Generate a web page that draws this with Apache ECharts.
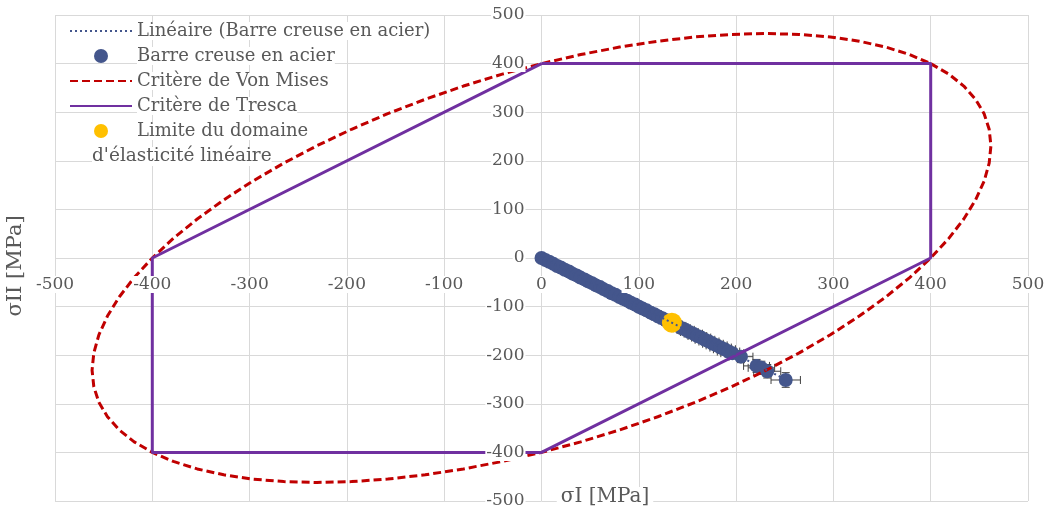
<!DOCTYPE html>
<html>
<head>
<meta charset="utf-8">
<script src="https://cdn.jsdelivr.net/npm/echarts@6/dist/echarts.min.js"></script>
<style>
  html, body { margin: 0; padding: 0; background: #fff; }
  #chart { width: 1051px; height: 513px; }
</style>
</head>
<body>
<div id="chart"></div>
<script>
// Principal stresses measured on the hollow steel bar (MPa)
const sigmaI = [0, 4.1, 8.0, 12.2, 16.1, 19.8, 24.0, 28.2, 31.9, 36.1, 40.0, 44.2, 47.9, 52.0, 56.1,
  60.2, 63.8, 68.0, 72.1, 76.0, 80.2, 83.9, 88.1, 92.0, 96.2, 100.1, 103.9, 108.0, 112.2, 116.0,
  120.1, 124.2, 127.9, 132.0, 136.1, 140.0, 144.2, 148.1, 151.9, 156.0, 160.2, 164.1, 168.0, 172.1,
  176.2, 180.0, 184.1, 188.0, 192.2, 196.1, 205, 221, 226, 232, 251];
const sigmaII = [0, -4.3, -7.8, -12.0, -16.4, -19.6, -24.3, -27.9, -32.2, -35.8, -40.3, -44.0, -48.2, -51.7, -56.4,
  -59.9, -64.1, -67.8, -72.4, -75.7, -80.5, -84.2, -87.8, -92.3, -95.9, -100.4, -104.1, -107.7, -112.5, -115.8,
  -120.4, -123.9, -128.2, -131.8, -136.3, -139.7, -144.5, -147.8, -152.2, -155.7, -160.5, -163.8, -168.3, -171.9,
  -176.5, -179.8, -184.3, -187.7, -192.5, -195.8, -203, -222, -226, -233, -251];
// Measurement uncertainty on each stress (MPa)
const uncert = [0, 0.2, 0.5, 0.7, 1.0, 1.2, 1.4, 1.7, 1.9, 2.2, 2.4, 2.7, 2.9, 3.1, 3.4,
  3.6, 3.8, 4.1, 4.3, 4.6, 4.8, 5.0, 5.3, 5.5, 5.8, 6.0, 6.2, 6.5, 6.7, 7.0,
  7.2, 7.5, 7.7, 7.9, 8.2, 8.4, 8.7, 8.9, 9.1, 9.4, 9.6, 9.8, 10.1, 10.3,
  10.6, 10.8, 11.0, 11.3, 11.5, 11.8, 12.3, 13.3, 13.6, 13.9, 15.1];

// Linear trend of the measurements
const trendI = [0, 251];
const trendII = [0.5, -250];

// End of the linear elastic range
const limitI = [134];
const limitII = [-133];

// Von Mises yield ellipse (Re = 400 MPa), one point every 5 degrees
const misesI = [400, 418.6, 434.0, 446.1, 454.9, 460.1, 461.9, 460.1, 454.9, 446.1, 434.0, 418.6,
  400, 378.4, 353.8, 326.6, 296.9, 264.9, 230.9, 195.2, 158.0, 119.5, 80.2, 40.3,
  0, -40.3, -80.2, -119.5, -158.0, -195.2, -230.9, -264.9, -296.9, -326.6, -353.8, -378.4,
  -400, -418.6, -434.0, -446.1, -454.9, -460.1, -461.9, -460.1, -454.9, -446.1, -434.0, -418.6,
  -400, -378.4, -353.8, -326.6, -296.9, -264.9, -230.9, -195.2, -158.0, -119.5, -80.2, -40.3,
  0, 40.3, 80.2, 119.5, 158.0, 195.2, 230.9, 264.9, 296.9, 326.6, 353.8, 378.4, 400];
const misesII = [400, 378.3, 353.8, 326.6, 296.9, 264.9, 230.9, 195.2, 158.0, 119.5, 80.2, 40.3,
  0, -40.3, -80.2, -119.5, -158.0, -195.2, -230.9, -264.9, -296.9, -326.6, -353.8, -378.4,
  -400, -418.6, -434.0, -446.1, -454.9, -460.1, -461.9, -460.1, -454.9, -446.1, -434.0, -418.6,
  -400, -378.3, -353.8, -326.6, -296.9, -264.9, -230.9, -195.2, -158.0, -119.5, -80.2, -40.3,
  0, 40.3, 80.2, 119.5, 158.0, 195.2, 230.9, 264.9, 296.9, 326.6, 353.8, 378.4,
  400, 418.6, 434.0, 446.1, 454.9, 460.1, 461.9, 460.1, 454.9, 446.1, 434.0, 418.6, 400];

// Tresca yield hexagon
const trescaI = [0, 400, 400, 0, -400, -400, 0];
const trescaII = [400, 400, 0, -400, -400, 0, 400];

// Axis ticks
const axisMin = -500, axisMax = 500, axisStep = 100;

const NAME_TREND = 'Linéaire (Barre creuse en acier)';
const NAME_BAR = 'Barre creuse en acier';
const NAME_MISES = 'Critère de Von Mises';
const NAME_TRESCA = 'Critère de Tresca';
const NAME_LIMIT = 'Limite du domaine';
const LIMIT_LINE2 = "d'élasticité linéaire";

const FONT = '"DejaVu Serif", "Liberation Serif", serif';
const TEXT = '#595959';
const GRID_C = '#d9d9d9';
const HIDDEN = 'rgba(0,0,0,0)';

const zip = (a, b) => a.map((v, i) => [v, b[i]]);

// Plot area, and the offsets that bring the label axes onto the origin
const W = 1051, H = 513;
const G = { left: 55, right: 23, top: 15, bottom: 12 };
const plotW = W - G.left - G.right, plotH = H - G.top - G.bottom;
const zeroFracX = (0 - axisMin) / (axisMax - axisMin);
const zeroFracY = (0 - axisMin) / (axisMax - axisMin);
const xLabelOffset = -plotH * zeroFracY;
const yLabelOffset = -plotW * zeroFracX;

const chart = echarts.init(document.getElementById('chart'), null, { renderer: 'canvas' });

const baseAxis = {
  type: 'value', min: axisMin, max: axisMax, interval: axisStep,
  axisTick: { show: false },
  axisLine: { show: false, onZero: false }
};

// axes 0 carry the gridlines, axes 1 carry the tick labels crossing at the origin
const option = {
  animation: false,
  backgroundColor: '#fff',
  grid: Object.assign({ containLabel: false }, G),
  xAxis: [
    Object.assign({}, baseAxis, {
      position: 'bottom',
      axisLabel: { show: false },
      splitLine: { show: true, lineStyle: { color: GRID_C, width: 1 } }
    }),
    Object.assign({}, baseAxis, {
      position: 'bottom', z: 10, offset: xLabelOffset,
      splitLine: { show: false },
      axisLabel: {
        color: TEXT, fontFamily: FONT, fontSize: 17, margin: 18,
        backgroundColor: '#fff', padding: [0, 1]
      }
    })
  ],
  yAxis: [
    Object.assign({}, baseAxis, {
      position: 'left',
      axisLabel: { show: false },
      splitLine: { show: true, lineStyle: { color: GRID_C, width: 1 } }
    }),
    Object.assign({}, baseAxis, {
      position: 'left', z: 10, offset: yLabelOffset,
      splitLine: { show: false },
      axisLabel: {
        color: TEXT, fontFamily: FONT, fontSize: 17, margin: 16,
        backgroundColor: '#fff', padding: [0, 1]
      }
    })
  ],
  legend: {
    orient: 'vertical',
    left: 69, top: 22, padding: 0,
    itemWidth: 62, itemHeight: 14, itemGap: 7,
    selectedMode: false,
    textStyle: { color: TEXT, fontFamily: FONT, fontSize: 18, backgroundColor: '#fff' },
    data: [
      { name: NAME_TREND, itemStyle: { color: HIDDEN, borderWidth: 0 } },
      { name: NAME_BAR },
      { name: NAME_MISES, itemStyle: { color: HIDDEN, borderWidth: 0 } },
      { name: NAME_TRESCA, itemStyle: { color: HIDDEN, borderWidth: 0 } },
      { name: NAME_LIMIT }
    ]
  },
  graphic: [
    {
      type: 'text', left: 92, top: 147, z: 100,
      style: { text: LIMIT_LINE2, fill: TEXT, font: '18.5px ' + FONT, backgroundColor: '#fff' }
    },
    {
      type: 'text', x: 605, y: 497, z: 100,
      style: { text: 'σI [MPa]', fill: TEXT, font: '20px ' + FONT, align: 'center', verticalAlign: 'middle',
        backgroundColor: '#fff', padding: [0, 4] }
    },
    {
      // sits under the tick labels so the "-500" label stays readable
      type: 'text', x: 16, y: 266, rotation: Math.PI / 2, z: 5,
      style: { text: 'σII [MPa]', fill: TEXT, font: '21px ' + FONT, align: 'center', verticalAlign: 'middle',
        backgroundColor: '#fff', padding: [0, 4] }
    }
  ],
  series: [
    {
      name: 'errorbars',
      type: 'custom',
      z: 2,
      silent: true,
      data: sigmaI.map((v, i) => [v, sigmaII[i], uncert[i], uncert[i]]),
      encode: { x: 0, y: 1 },
      renderItem: function (params, api) {
        const x = api.value(0), y = api.value(1), ex = api.value(2), ey = api.value(3);
        const L = api.coord([x - ex, y]), R = api.coord([x + ex, y]);
        const T = api.coord([x, y + ey]), B = api.coord([x, y - ey]);
        const cap = 4;
        const st = { stroke: '#404040', lineWidth: 1 };
        const seg = (x1, y1, x2, y2) => ({ type: 'line', shape: { x1, y1, x2, y2 }, style: st });
        return {
          type: 'group',
          children: [
            seg(L[0], L[1], R[0], R[1]),
            seg(L[0], L[1] - cap, L[0], L[1] + cap),
            seg(R[0], R[1] - cap, R[0], R[1] + cap),
            seg(T[0], T[1], B[0], B[1]),
            seg(T[0] - cap, T[1], T[0] + cap, T[1]),
            seg(B[0] - cap, B[1], B[0] + cap, B[1])
          ]
        };
      }
    },
    {
      name: NAME_BAR,
      type: 'scatter',
      z: 3,
      symbol: 'circle',
      symbolSize: 14,
      itemStyle: { color: '#44568c', opacity: 1 },
      data: zip(sigmaI, sigmaII)
    },
    {
      name: NAME_MISES,
      type: 'line',
      z: 4,
      symbol: 'none',
      lineStyle: { color: '#c00000', width: 3, type: [8, 4] },
      itemStyle: { color: '#c00000' },
      data: zip(misesI, misesII)
    },
    {
      name: NAME_TRESCA,
      type: 'line',
      z: 5,
      symbol: 'none',
      lineStyle: { color: '#7030a0', width: 3 },
      itemStyle: { color: '#7030a0' },
      data: zip(trescaI, trescaII)
    },
    {
      name: NAME_LIMIT,
      type: 'scatter',
      z: 6,
      symbol: 'circle',
      symbolSize: 20,
      itemStyle: { color: '#ffc000', opacity: 1 },
      data: zip(limitI, limitII)
    },
    {
      name: NAME_TREND,
      type: 'line',
      z: 7,
      symbol: 'none',
      lineStyle: { color: '#44568c', width: 2, type: [2, 3] },
      itemStyle: { color: '#44568c' },
      data: zip(trendI, trendII)
    }
  ]
};

chart.setOption(option);
</script>
</body>
</html>
